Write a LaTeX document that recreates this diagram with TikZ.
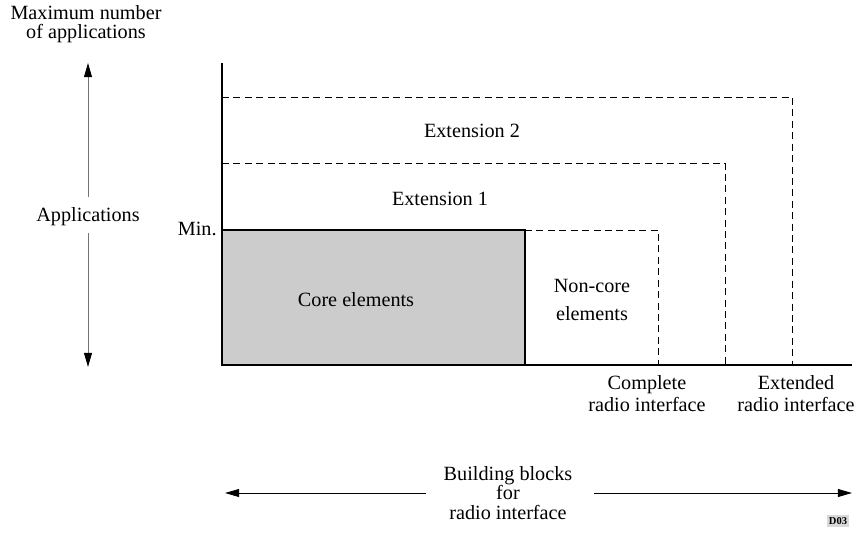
\documentclass[tikz,border=0pt]{standalone}
\usepackage{fontspec}
\setmainfont{Liberation Serif}
\usetikzlibrary{arrows.meta}

\begin{document}
\begin{tikzpicture}[x=0.02cm,y=-0.02cm,
  lbl/.style={font=\fontsize{11.5}{12.5}\selectfont,inner sep=0pt,align=center},
  ext/.style={dash pattern=on 4pt off 2.5pt,line width=0.4pt},
  axis/.style={line width=0.8pt},
  span/.style={-{Triangle[length=8pt,width=4.5pt,color=black]},line width=0.5pt},
  stamp/.style={font=\fontsize{6}{6}\selectfont\bfseries,fill=black!15,inner sep=1.2pt}]
\useasboundingbox (0,0) rectangle (856,534);
% axes
\coordinate (o) at (222,365);
\coordinate (top) at (222,63);
\coordinate (end) at (852,365);
% core block
\filldraw[fill=black!20,axis] (o) rectangle (525,230);
\coordinate (min) at (222,230);
\coordinate (core) at (525,230);
% non-core and extensions
\coordinate (nc) at (658,230);
\coordinate (e1) at (725,163);
\coordinate (e2) at (792,97);
\draw[ext] (core) -- (nc) -- (nc |- o);
\draw[ext] (top |- e1) -- (e1) -- (e1 |- o);
\draw[ext] (top |- e2) -- (e2) -- (e2 |- o);
\draw[axis] (top) -- (o) -- (end);
% labels
\node[lbl] (ext2) at (472,131) {Extension 2};
\node[lbl] (ext1) at (440,199) {Extension 1};
\node[lbl] (corel) at (356,300) {Core elements};
\node[lbl,font=\fontsize{11.5}{16}\selectfont] (ncl) at (592,300) {Non-core\\elements};
\node[lbl,anchor=east] (minl) at (217,229) {Min.};
\node[lbl,font=\fontsize{11.5}{12.5}\selectfont] (compl) at (647,394) {Complete\\radio interface};
\node[lbl,font=\fontsize{11.5}{12.5}\selectfont] (extl) at (796,394) {Extended\\radio interface};
% applications axis
\node[lbl,font=\fontsize{11.5}{11}\selectfont] (maxl) at (86,24) {Maximum number\\of applications};
\node[lbl] (appl) at (88,217) {Applications};
\coordinate (upa) at (88,197);
\coordinate (upb) at (88,63);
\coordinate (dna) at (88,233);
\coordinate (dnb) at (88,367);
\draw[span,black!55] (upa) -- (upb);
\draw[span,black!55] (dna) -- (dnb);
% building blocks
\node[lbl,font=\fontsize{11.5}{11}\selectfont] (bbl) at (508,493) {Building blocks\\for\\radio interface};
\coordinate (lfa) at (426,493);
\coordinate (lfb) at (225,493);
\coordinate (rta) at (594,493);
\coordinate (rtb) at (852,493);
\draw[span] (lfa) -- (lfb);
\draw[span] (rta) -- (rtb);
\node[stamp] (code) at (838,521) {D03};
\end{tikzpicture}
\end{document}
